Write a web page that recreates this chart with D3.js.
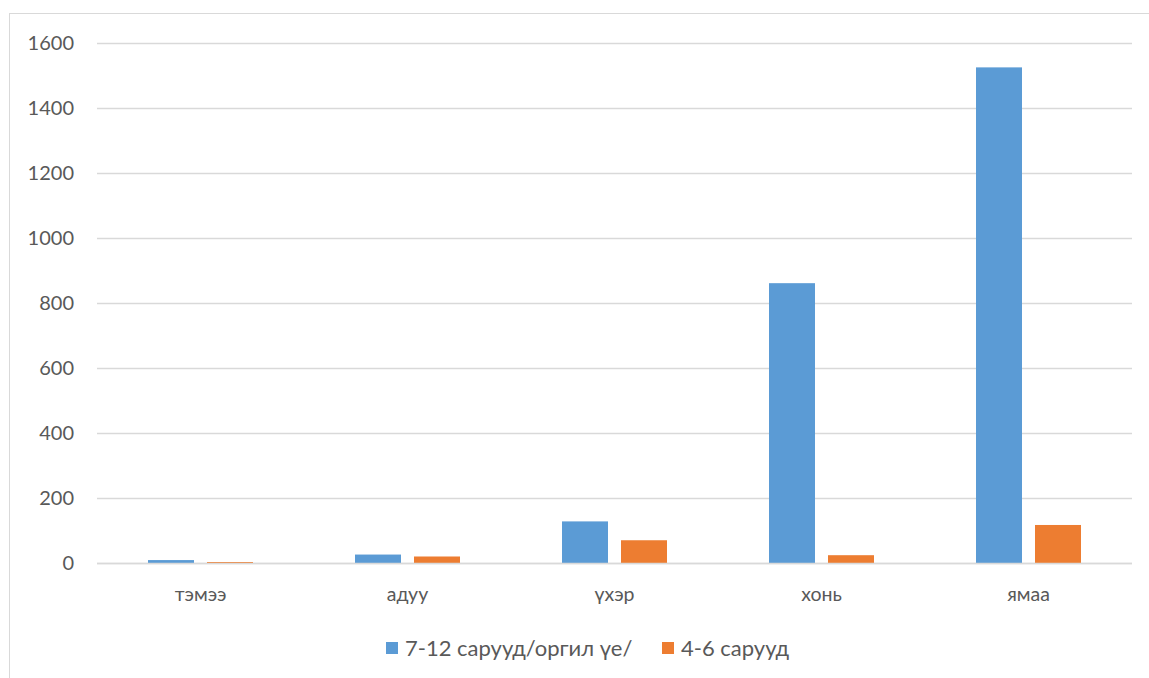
<!DOCTYPE html>
<html>
<head>
<meta charset="utf-8">
<script src="https://cdn.jsdelivr.net/npm/d3@7"></script>
<style>
  body { margin: 0; background: #fff; }
  svg text { font-family: Lato, "Open Sans", sans-serif; fill: #595959; }
</style>
</head>
<body>
<svg width="1149" height="678"></svg>
<script>
// chart data
var categories = ['тэмээ', 'адуу', 'үхэр', 'хонь', 'ямаа'];
var seriesNames = ['7-12 сарууд/оргил үе/', '4-6 сарууд'];
var adultValues = [9, 26, 128, 861, 1525];
var youngValues = [3, 20, 70, 24, 117];
var yTicks = [0, 200, 400, 600, 800, 1000, 1200, 1400, 1600];
var colors = ['#5b9bd5', '#ed7d31'];

(function() {
    var svg = d3.select('svg');

    // outer chart border
    svg.append('rect')
        .attr('x', 9.5).attr('y', 13.5)
        .attr('width', 1160).attr('height', 700)
        .attr('fill', 'none')
        .attr('stroke', '#d9d9d9');

    var left = 97, right = 1132, top = 43, bottom = 563;

    var x = d3.scaleBand().domain(categories).range([left, right]);
    var y = d3.scaleLinear().domain([0, 1600]).range([bottom, top]);

    // gridlines
    svg.append('g').selectAll('line')
        .data(yTicks)
        .enter().append('line')
        .attr('x1', left).attr('x2', right)
        .attr('y1', function(d) { return y(d) + 0.5; })
        .attr('y2', function(d) { return y(d) + 0.5; })
        .attr('stroke', '#d9d9d9')
        .attr('stroke-width', 1.3);

    // y axis labels
    var yAxis = d3.axisLeft(y).tickValues(yTicks).tickFormat(d3.format('d'))
        .tickSize(0).tickPadding(0);
    var ya = svg.append('g').attr('transform', 'translate(74,0)').call(yAxis);
    ya.select('.domain').remove();
    ya.selectAll('text').style('font-size', '20px').attr('fill', '#595959')
        .style('font-family', 'Lato, sans-serif');

    // bars
    var series = [adultValues, youngValues];
    var barW = 46;
    var offsets = [-52.5, 6.5];
    series.forEach(function(vals, si) {
        svg.append('g').selectAll('rect')
            .data(vals)
            .enter().append('rect')
            .attr('x', function(d, i) { return x(categories[i]) + x.bandwidth() / 2 + offsets[si]; })
            .attr('y', function(d) { return y(d); })
            .attr('width', barW)
            .attr('height', function(d) { return bottom - y(d); })
            .attr('fill', colors[si]);
    });

    // baseline
    svg.append('line')
        .attr('x1', left).attr('x2', right)
        .attr('y1', bottom + 0.5).attr('y2', bottom + 0.5)
        .attr('stroke', '#d9d9d9').attr('stroke-width', 1.3);

    // x axis labels
    var xAxis = d3.axisBottom(x).tickSize(0).tickPadding(0);
    var xa = svg.append('g').attr('transform', 'translate(0,' + 587 + ')').call(xAxis);
    xa.select('.domain').remove();
    xa.selectAll('text').style('font-size', '19.5px').attr('fill', '#595959')
        .style('font-family', 'Lato, sans-serif');

    // legend
    var legX = [386, 662];
    var leg = svg.append('g');
    seriesNames.forEach(function(name, i) {
        leg.append('rect')
            .attr('x', legX[i]).attr('y', 642)
            .attr('width', 12).attr('height', 12)
            .attr('fill', colors[i]);
        leg.append('text')
            .attr('x', legX[i] + 19).attr('y', 656)
            .style('font-size', '22px')
            .text(name);
    });
})();
</script>
</body>
</html>
